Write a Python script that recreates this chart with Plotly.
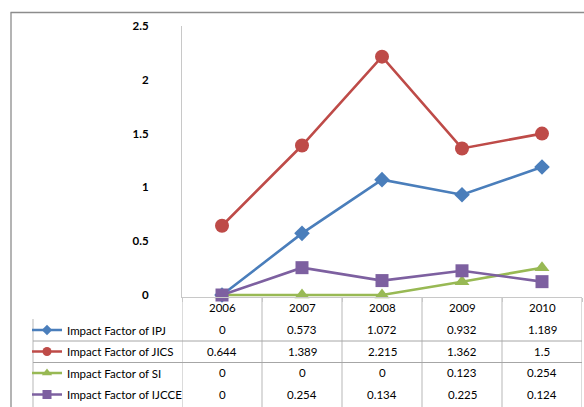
import plotly.graph_objects as go

# Journal impact factors by year
years = ["2006", "2007", "2008", "2009", "2010"]
ipj = [0, 0.573, 1.072, 0.932, 1.189]
jics = [0.644, 1.389, 2.215, 1.362, 1.5]
si = [0, 0, 0, 0.123, 0.254]
ijcce = [0, 0.254, 0.134, 0.225, 0.124]

series_names = [
    "Impact Factor of IPJ",
    "Impact Factor of JICS",
    "Impact Factor of SI",
    "Impact Factor of IJCCE",
]
series_values = [ipj, jics, si, ijcce]
y_ticks = [0, 0.5, 1, 1.5, 2, 2.5]
y_tick_text = ["0", "0.5", "1", "1.5", "2", "2.5"]

colors = ["#4A7EBB", "#BE4B48", "#98B954", "#7D60A0"]
symbols = ["diamond", "circle", "triangle-up", "square"]
sizes = [12, 14, 13, 13]
key_sizes = [8, 9, 9, 9]

W, H = 584, 407
FONT = "Lato"
FS = 11.5


def px_x(x):
    return x / W


def px_y(y):
    return (H - y) / H


fig = go.Figure()

for i, (name, vals) in enumerate(zip(series_names, series_values)):
    fig.add_trace(go.Scatter(
        x=years, y=vals, name=name, mode="lines+markers",
        line=dict(color=colors[i], width=2.6),
        marker=dict(symbol=symbols[i], size=sizes[i], color=colors[i]),
        cliponaxis=False, showlegend=False,
    ))

# legend keys for the data table (smaller symbols than the plotted points)
for i, name in enumerate(series_names):
    fig.add_trace(go.Scatter(
        x=[None], y=[None], name=name, mode="lines+markers",
        line=dict(color=colors[i], width=2.6),
        marker=dict(symbol=symbols[i], size=key_sizes[i], color=colors[i]),
        legendgroup=name, showlegend=True,
    ))

# y: 0 at 295px, 2.5 at 26px
y_lo = -0.02
unit = (295 - 26) / 2.5
bottom_px = 295 - y_lo * unit

fig.update_layout(
    width=W, height=H,
    margin=dict(l=0, r=0, t=0, b=0, autoexpand=False),
    paper_bgcolor="white", plot_bgcolor="white",
    font=dict(family=FONT, size=FS, color="#000000"),
    xaxis=dict(
        domain=[px_x(182), px_x(582)],
        type="category", range=[-0.5, 4.5],
        showgrid=False, zeroline=False,
        showline=True, linecolor="#C8C8C8", linewidth=1,
        ticks="outside", tickson="boundaries", ticklen=4, tickcolor="#C8C8C8",
        showticklabels=False,
    ),
    yaxis=dict(
        domain=[px_y(bottom_px), px_y(26)],
        range=[y_lo, 2.5],
        tickvals=y_ticks, ticktext=y_tick_text,
        showgrid=False, zeroline=False,
        showline=True, linecolor="#C8C8C8", linewidth=1,
        ticks="", ticklabelstandoff=30,
        tickfont=dict(family=FONT, size=FS, color="#000000", weight="bold"),
    ),
    legend=dict(
        x=px_x(27), y=px_y(315.5), xanchor="left", yanchor="top",
        bgcolor="rgba(0,0,0,0)", borderwidth=0,
        font=dict(family=FONT, size=FS, color="#000000"),
        traceorder="grouped", tracegroupgap=2.5,
        itemwidth=30,
    ),
    showlegend=True,
)

shapes = []
line_col = "#A6A6A6"
# outer chart frame
shapes.append(dict(type="line", xref="paper", yref="paper",
                   x0=px_x(10.5), x1=1.01, y0=px_y(12.5), y1=px_y(12.5),
                   line=dict(color="#8C8C8C", width=1.3)))
shapes.append(dict(type="line", xref="paper", yref="paper",
                   x0=px_x(11), x1=px_x(11), y0=px_y(12.5), y1=-0.01,
                   line=dict(color="#8C8C8C", width=1.3)))
# data table: column separators on category boundaries
for b in [-0.5, 0.5, 1.5, 2.5, 3.5, 4.5]:
    shapes.append(dict(type="line", xref="x", yref="paper",
                       x0=b, x1=b, y0=px_y(bottom_px), y1=-0.01,
                       line=dict(color="#C8C8C8", width=1.3)))
# table left edge and row separators
shapes.append(dict(type="line", xref="paper", yref="paper",
                   x0=px_x(33), x1=px_x(33), y0=px_y(319), y1=-0.01,
                   line=dict(color="#C8C8C8", width=1.3)))
for ry in [341, 362.5]:
    shapes.append(dict(type="line", xref="paper", yref="paper",
                       x0=px_x(33), x1=px_x(582), y0=px_y(ry), y1=px_y(ry),
                       line=dict(color=line_col, width=1)))
fig.update_layout(shapes=shapes)

# table header (years) and values, placed by category index
ann = []
for j, yr in enumerate(years):
    ann.append(dict(x=j, y=px_y(307), xref="x", yref="paper", text=yr,
                    xanchor="center", yanchor="middle", showarrow=False,
                    font=dict(family=FONT, size=FS, color="#000")))
row_y = [329.5, 351, 372.5, 394]
for i, vals in enumerate(series_values):
    for j, v in enumerate(vals):
        ann.append(dict(x=j, y=px_y(row_y[i]), xref="x", yref="paper",
                        text=f"{v:g}", xanchor="center", yanchor="middle",
                        showarrow=False,
                        font=dict(family=FONT, size=FS, color="#000")))
fig.update_layout(annotations=ann)

fig.write_html("out.html")
